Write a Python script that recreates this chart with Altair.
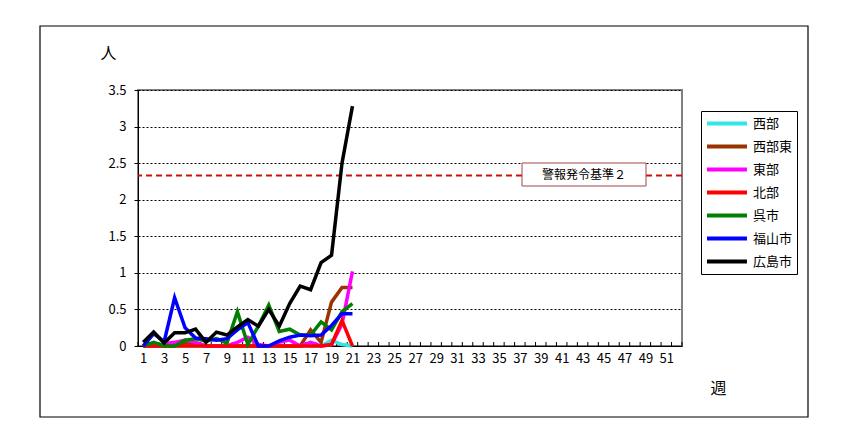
import altair as alt
import pandas as pd

FONT = "Noto Sans CJK JP"

# ---- data ----
weeks = list(range(1, 22))
series_names = ["西部", "西部東", "東部", "北部", "呉市", "福山市", "広島市"]
series_colors = ["#33E6E6", "#993300", "#FF00FF", "#FF0000", "#008000", "#0000FF", "#000000"]

seibu =       [0, 0, 0, 0, 0, 0, 0, 0, 0, 0, 0, 0, 0, 0, 0, 0, 0, 0, 0.08, 0.02, 0]
seibu_higashi = [0, 0, 0, 0, 0.04, 0.04, 0, 0, 0, 0, 0, 0, 0, 0, 0, 0, 0.22, 0.05, 0.6, 0.8, 0.8]
tobu =        [0, 0, 0.03, 0.05, 0.08, 0.05, 0, 0, 0, 0.05, 0.12, 0.02, 0, 0.05, 0.08, 0, 0.05, 0, 0.02, 0.3, 1.02]
hokubu =      [0, 0, 0, 0, 0, 0, 0, 0, 0, 0, 0, 0, 0, 0, 0, 0, 0, 0, 0.02, 0.35, 0]
kure =        [0, 0.05, 0, 0, 0.08, 0.1, 0.07, 0.1, 0.04, 0.47, 0.02, 0.27, 0.56, 0.2, 0.23, 0.15, 0.15, 0.33, 0.22, 0.47, 0.58]
fukuyama =    [0, 0.17, 0.06, 0.66, 0.25, 0.11, 0.1, 0.08, 0.1, 0.22, 0.32, 0, 0, 0.07, 0.12, 0.15, 0.14, 0.15, 0.28, 0.44, 0.44]
hiroshima =   [0.05, 0.19, 0.04, 0.18, 0.18, 0.23, 0.05, 0.19, 0.15, 0.26, 0.36, 0.27, 0.5, 0.27, 0.58, 0.82, 0.77, 1.14, 1.24, 2.5, 3.28]

threshold = 2.33
threshold_label = "警報発令基準２"
x_tick_values = list(range(1, 53))
y_tick_values = [0, 0.5, 1, 1.5, 2, 2.5, 3, 3.5]
week_boundaries = [w + 0.5 for w in range(0, 53)]

all_series = [seibu, seibu_higashi, tobu, hokubu, kure, fukuyama, hiroshima]
rows = []
for i, (name, vals) in enumerate(zip(series_names, all_series)):
    for w, v in zip(weeks, vals):
        rows.append({"週": w, "人数": v, "地区": name, "順": i})
df = pd.DataFrame(rows)

W, H = 544, 256
x_scale = alt.Scale(domain=[0.5, 52.5], nice=False, zero=False)
y_scale = alt.Scale(domain=[0, 3.5], nice=False)

x_axis = alt.Axis(values=x_tick_values,
                  labelExpr="datum.value % 2 == 1 ? datum.label : ''",
                  labelOverlap=False, ticks=False, grid=False, domainColor="black",
                  labelFontSize=13, labelPadding=6, labelColor="black",
                  title="週", titleFontSize=16, titleFontWeight="normal",
                  titleX=580, titleY=42, titleAlign="center", titleBaseline="middle")
y_axis = alt.Axis(values=y_tick_values, format="~g", grid=True, labelOverlap=False,
                  gridColor="black", gridDash=[2, 2], gridWidth=1,
                  domainColor="black", tickColor="black", tickSize=4,
                  labelFontSize=13, labelPadding=8, labelColor="black",
                  title="人", titleAngle=0, titleFontSize=16, titleFontWeight="normal",
                  titleX=-30, titleY=-37, titleAlign="center", titleBaseline="middle")

one = alt.Data(values=[{"a": 1}])

frame = alt.Chart(one).mark_rect(fill="transparent", stroke="black", strokeWidth=1.2).encode(
    x=alt.value(-98), x2=alt.value(670), y=alt.value(-64), y2=alt.value(327)
)

lines = alt.Chart(df).mark_line(strokeWidth=3.5).encode(
    x=alt.X("週:Q", scale=x_scale, axis=x_axis),
    y=alt.Y("人数:Q", scale=y_scale, axis=y_axis),
    color=alt.Color("地区:N", scale=alt.Scale(domain=series_names, range=series_colors),
                    legend=alt.Legend(title=None, orient="none", legendX=563, legendY=21,
                                      strokeColor="black", fillColor="white", padding=4,
                                      symbolType="M-1,0H5.15", symbolSize=169,
                                      symbolStrokeWidth=4, labelOffset=31, rowPadding=6,
                                      labelFontSize=13, labelFont=FONT, labelColor="black")),
    detail="順:N",
)

xticks = alt.Chart(pd.DataFrame({"週": week_boundaries})).mark_rule(color="black", strokeWidth=1).encode(
    x=alt.X("週:Q", scale=x_scale, axis=x_axis), y=alt.value(H), y2=alt.value(H - 4)
)

thr = alt.Chart(pd.DataFrame({"人数": [threshold]})).mark_rule(
    color="#CC1111", strokeDash=[6, 4], strokeWidth=2
).encode(y=alt.Y("人数:Q", scale=y_scale, axis=y_axis))

box = alt.Chart(one).mark_rect(fill="white", stroke="#A04848", strokeWidth=1).encode(
    x=alt.value(384), x2=alt.value(508), y=alt.value(73), y2=alt.value(96)
)
box_text = alt.Chart(one).mark_text(text=threshold_label, fontSize=12, font=FONT, color="black").encode(
    x=alt.value(446), y=alt.value(85)
)

chart = alt.layer(frame, xticks, thr, lines, box, box_text).properties(
    width=W, height=H,
    padding={"left": 130, "top": 82, "right": 175, "bottom": 80},
    autosize=alt.AutoSizeParams(type="none"),
    background="white",
).configure(font=FONT).configure_view(stroke="#808080", strokeWidth=2)

chart.save("out.html", embed_options={"renderer": "svg", "actions": False})
